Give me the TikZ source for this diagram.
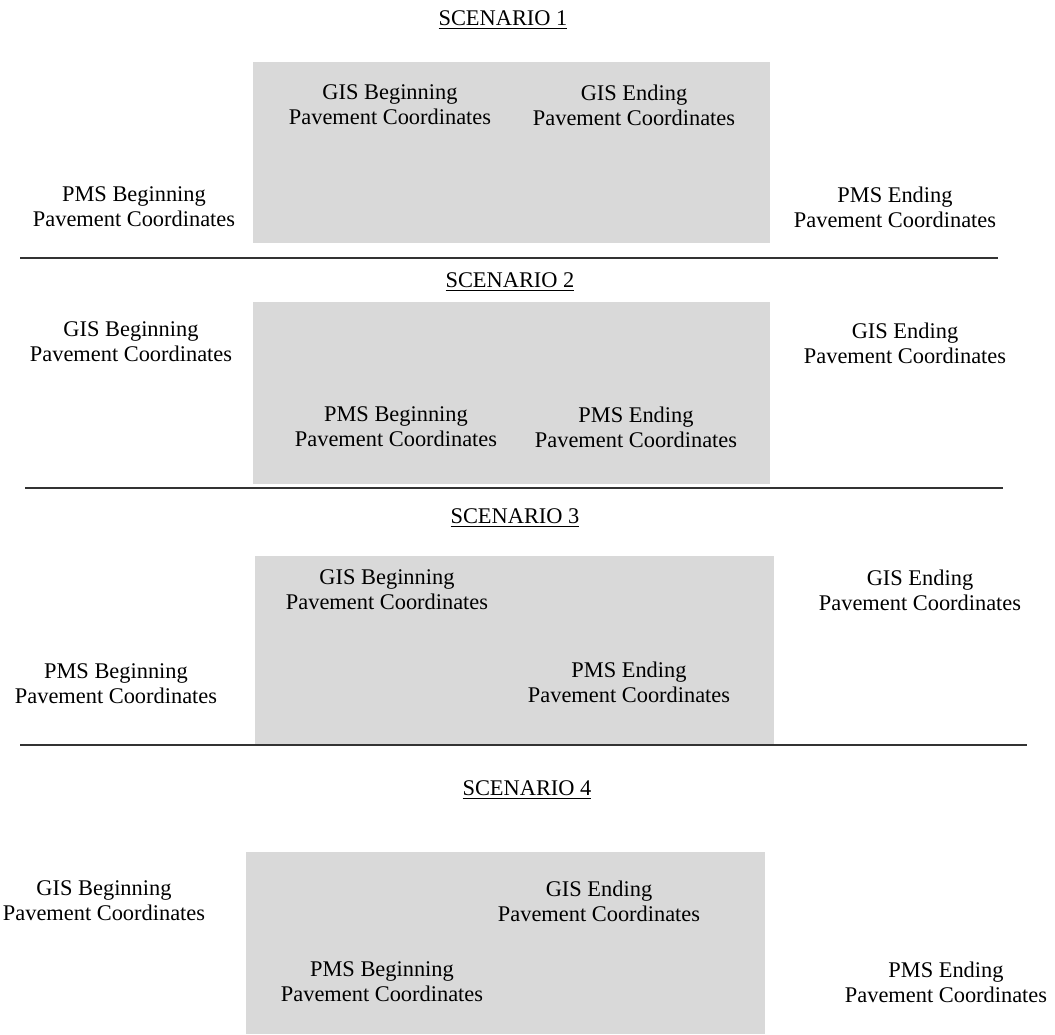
\documentclass[tikz,border=0pt]{standalone}
\usepackage{fontspec}
\setmainfont{Liberation Serif}
\usepackage{tikz}
\usetikzlibrary{positioning}
\definecolor{scgrey}{HTML}{D9D9D9}
\definecolor{scline}{HTML}{333333}

\begin{document}
\begin{tikzpicture}[
    x=0.5pt, y=-0.5pt,
    font=\fontsize{11.2}{12.5}\selectfont,
    lbl/.style={align=center, inner sep=0pt},
    ttl/.style={inner sep=0pt},
    area/.style={fill=scgrey},
    sep/.style={draw=scline, line width=0.75pt}]

  \useasboundingbox (0,0) rectangle (1055,1034);

  % ---- scenario 1 ----
  \node[ttl] (t1) at (503,20) {\underline{SCENARIO 1}};
  \fill[area] (253,62) rectangle (770,243);
  \node[lbl] (gb1) at (390,105) {GIS Beginning\\Pavement Coordinates};
  \node[lbl] (ge1) at (634,105) {GIS Ending\\Pavement Coordinates};
  \node[lbl] (pb1) at (134,207) {PMS Beginning\\Pavement Coordinates};
  \node[lbl] (pe1) at (895,207) {PMS Ending\\Pavement Coordinates};
  \draw[sep] (20,258) -- (998,258);

  % ---- scenario 2 ----
  \node[ttl] (t2) at (510,282) {\underline{SCENARIO 2}};
  \fill[area] (253,302) rectangle (770,484);
  \node[lbl] (gb2) at (131,342) {GIS Beginning\\Pavement Coordinates};
  \node[lbl] (ge2) at (905,343) {GIS Ending\\Pavement Coordinates};
  \node[lbl] (pb2) at (396,427) {PMS Beginning\\Pavement Coordinates};
  \node[lbl] (pe2) at (636,427) {PMS Ending\\Pavement Coordinates};
  \draw[sep] (25,488) -- (1003,488);

  % ---- scenario 3 ----
  \node[ttl] (t3) at (515,518) {\underline{SCENARIO 3}};
  \fill[area] (255,556) rectangle (774,744);
  \node[lbl] (gb3) at (387,590) {GIS Beginning\\Pavement Coordinates};
  \node[lbl] (ge3) at (920,590) {GIS Ending\\Pavement Coordinates};
  \node[lbl] (pb3) at (116,684) {PMS Beginning\\Pavement Coordinates};
  \node[lbl] (pe3) at (629,682) {PMS Ending\\Pavement Coordinates};
  \draw[sep] (20,745) -- (1027,745);

  % ---- scenario 4 ----
  \node[ttl] (t4) at (527,790) {\underline{SCENARIO 4}};
  \fill[area] (246,852) rectangle (765,1034);
  \node[lbl] (gb4) at (104,901) {GIS Beginning\\Pavement Coordinates};
  \node[lbl] (ge4) at (599,901) {GIS Ending\\Pavement Coordinates};
  \node[lbl] (pb4) at (382,982) {PMS Beginning\\Pavement Coordinates};
  \node[lbl] (pe4) at (946,982) {PMS Ending\\Pavement Coordinates};
\end{tikzpicture}
\end{document}
